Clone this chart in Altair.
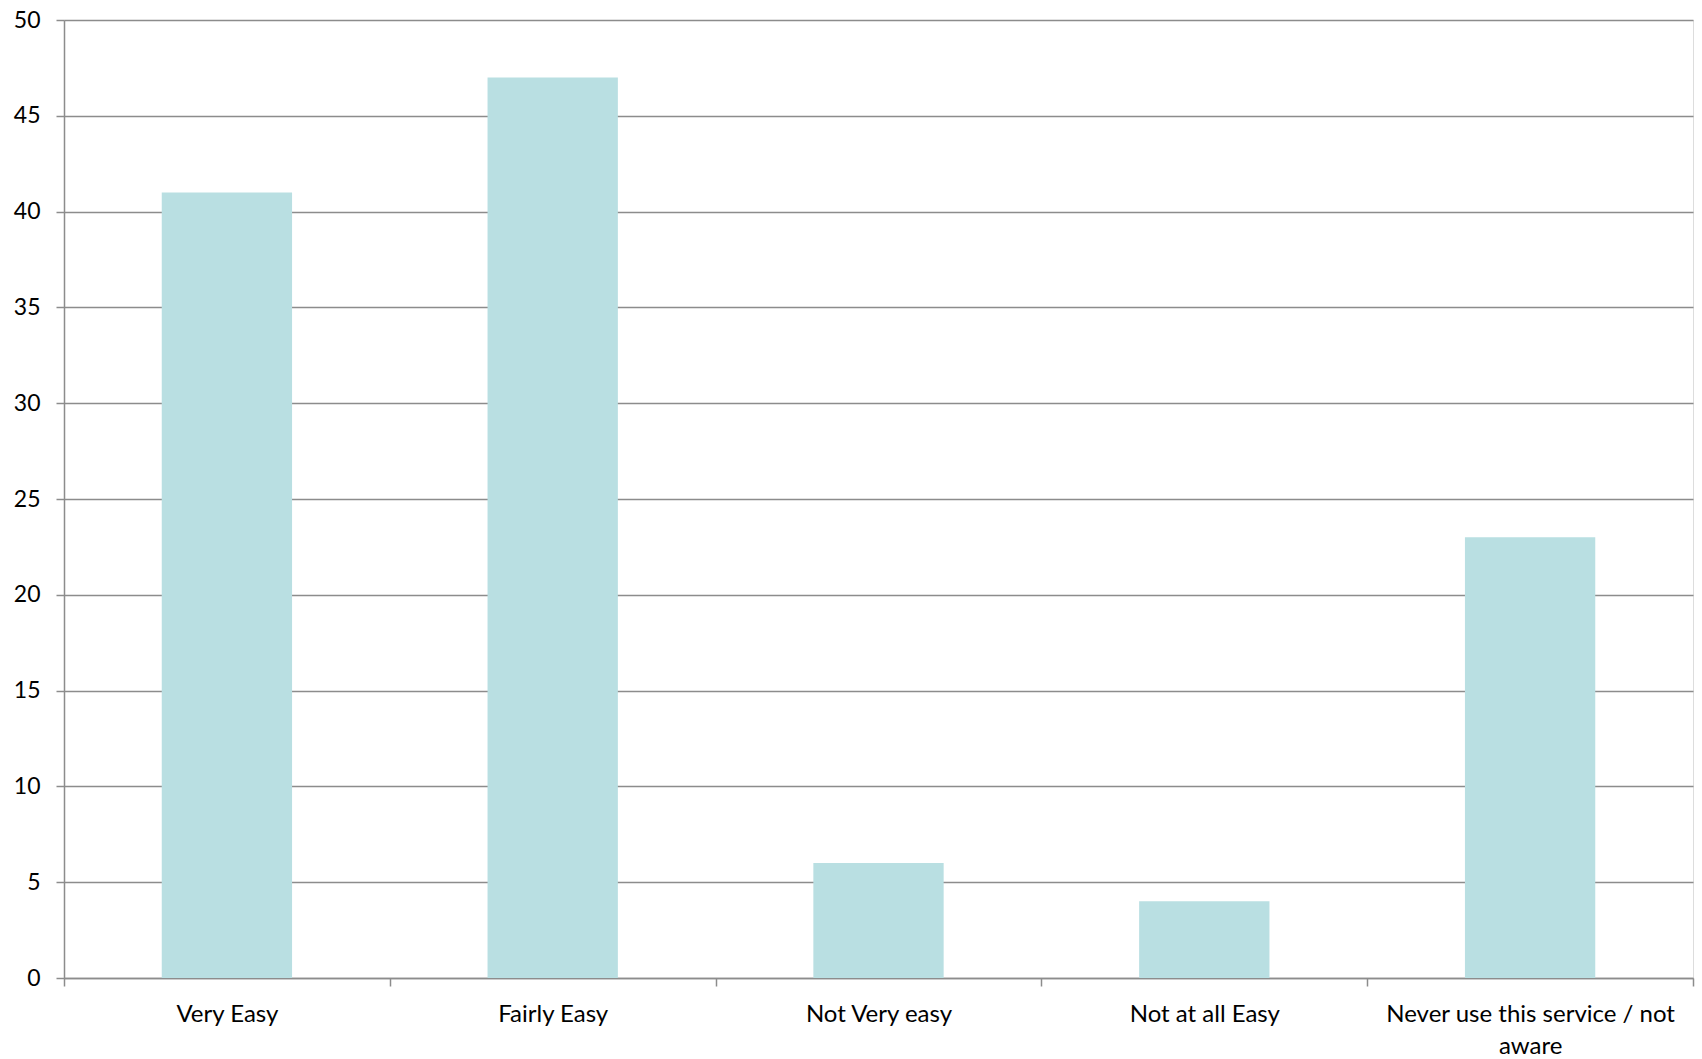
import altair as alt
import pandas as pd

# Survey responses: how easy the service is to use
categories = [
    "Very Easy",
    "Fairly Easy",
    "Not Very easy",
    "Not at all Easy",
    "Never use this service / not aware",
]
counts = [41, 47, 6, 4, 23]

df = pd.DataFrame({"category": categories, "count": counts})

FONT = "Lato"
GRID = "#8c8c8c"

label_expr = (
    "datum.value == 'Never use this service / not aware' "
    "? ['Never use this service / not', 'aware'] : datum.value"
)

chart = (
    alt.Chart(df)
    .mark_bar(color="#b9dfe2", width=alt.RelativeBandSize(0.4))
    .encode(
        x=alt.X(
            "category:N",
            sort=categories,
            title=None,
            scale=alt.Scale(paddingInner=0, paddingOuter=0),
            axis=alt.Axis(
                labelAngle=0,
                labelFont=FONT,
                labelFontSize=24,
                labelColor="#000000",
                labelPadding=16,
                labelLineHeight=32,
                labelLimit=0,
                labelExpr=label_expr,
                tickBand="extent",
                tickSize=8,
                tickColor=GRID,
                tickWidth=1.5,
                domainColor=GRID,
                domainWidth=1.5,
                grid=False,
            ),
        ),
        y=alt.Y(
            "count:Q",
            title=None,
            scale=alt.Scale(domain=[0, 50], nice=False),
            axis=alt.Axis(
                values=list(range(0, 51, 5)),
                labelFont=FONT,
                labelFontSize=23,
                labelColor="#000000",
                labelPadding=16,
                tickSize=8,
                tickColor=GRID,
                tickWidth=1.5,
                domainColor=GRID,
                domainWidth=1.5,
                gridColor=GRID,
                gridWidth=1.5,
                gridOpacity=1,
            ),
        ),
    )
    .properties(
        width=1629,
        height=958,
        autosize=alt.AutoSizeParams(type="none"),
        padding={"left": 64, "top": 20, "right": 9, "bottom": 81},
    )
    .configure_view(stroke=None)
    .configure(background="#ffffff")
)

chart.save("out.html", embed_options={"renderer": "svg", "actions": False})
